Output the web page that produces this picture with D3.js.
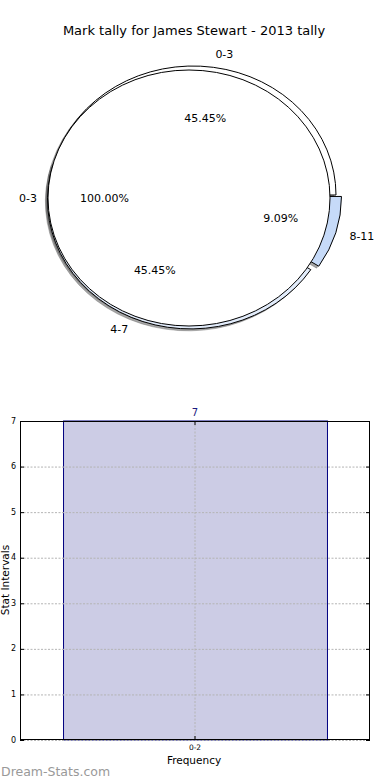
<!DOCTYPE html>
<html><head><meta charset="utf-8">
<script src="https://cdn.jsdelivr.net/npm/d3@7"></script>
<style>body{margin:0;background:#fff;} text{font-family:"DejaVu Sans",sans-serif;}</style>
</head><body><svg id="c" width="390" height="780"></svg>
<script>
const title = "Mark tally for James Stewart - 2013 tally";
const ringCategories = ["0-3", "4-7", "8-11"];
const ringValues = [5, 5, 1];
const ringColors = ["#ffffff", "#e2ecfb", "#c6daf8"];
const ringExplode = [0, 0.042, 0.04];
const discCategories = ["0-3"];
const discValues = [1];
const discColors = ["#ffffff"];
const discExplode = [0];
const barCategories = ["0-2"];
const barValues = [7];
const yTicks = [0, 1, 2, 3, 4, 5, 6, 7];
const watermark = "Dream-Stats.com";

const svg = d3.select("#c");
svg.append("rect").attr("width", 390).attr("height", 780).attr("fill", "#fff");

svg.append("text").attr("x", 194).attr("y", 30).attr("text-anchor", "middle")
  .attr("dominant-baseline", "central").attr("font-size", 13).attr("fill", "#000").text(title);

const R = 100;
const pie = d3.pie().sort(null).value(d => d).startAngle(Math.PI / 2).endAngle(Math.PI / 2 - 2 * Math.PI);
const arc = d3.arc().innerRadius(0).outerRadius(R);

function layoutPie(cats, vals, colors, explode, cx, cy, rx, ry) {
  const total = d3.sum(vals);
  return pie(vals).map((p, i) => {
    const a = (p.startAngle + p.endAngle) / 2;
    const sx = Math.sin(a), sy = -Math.cos(a);
    const ox = explode[i] * rx * sx, oy = explode[i] * ry * sy;
    return {p, cat: cats[i], color: colors[i], cx, cy, rx, ry, ox, oy, sx, sy,
      pct: (100 * vals[i] / total).toFixed(2) + "%"};
  });
}

const ring = layoutPie(ringCategories, ringValues, ringColors, ringExplode, 193, 195, 143, 129);
const disc = layoutPie(discCategories, discValues, discColors, discExplode, 189, 198, 141, 128);

const pieLayer = svg.append("g");
function drawShadows(slices) {
  slices.forEach(s => {
    pieLayer.append("path").attr("d", arc(s.p))
      .attr("transform", `translate(${s.cx + s.ox - 0.015 * s.rx},${s.cy + s.oy + 0.015 * s.ry}) scale(${s.rx / R},${s.ry / R})`)
      .attr("fill", "rgb(77,77,77)").attr("fill-opacity", 0.5)
      .attr("stroke", "rgb(77,77,77)").attr("stroke-opacity", 0.4)
      .attr("vector-effect", "non-scaling-stroke").attr("stroke-width", 0.8);
  });
}
function drawWedges(slices) {
  slices.forEach(s => {
    pieLayer.append("path").attr("d", arc(s.p))
      .attr("transform", `translate(${s.cx + s.ox},${s.cy + s.oy}) scale(${s.rx / R},${s.ry / R})`)
      .attr("fill", s.color).attr("stroke", "#000")
      .attr("vector-effect", "non-scaling-stroke").attr("stroke-width", 1);
  });
}
function drawLabels(slices) {
  slices.forEach(s => {
    pieLayer.append("text")
      .attr("x", s.cx + s.ox + 1.1 * s.rx * s.sx + (s.sx > 0 ? 0 : 3)).attr("y", s.cy + s.oy + 1.1 * s.ry * s.sy)
      .attr("text-anchor", s.sx > 0 ? "start" : "end").attr("dominant-baseline", "central")
      .attr("font-size", 11).text(s.cat);
    pieLayer.append("text")
      .attr("x", s.cx + s.ox + 0.6 * s.rx * s.sx).attr("y", s.cy + s.oy + 0.6 * s.ry * s.sy)
      .attr("text-anchor", "middle").attr("dominant-baseline", "central")
      .attr("font-size", 11).text(s.pct);
  });
}
drawShadows(ring);
drawShadows(disc);
drawWedges(ring);
drawWedges(disc);
drawLabels(ring);
drawLabels(disc);

// Bar chart
const L = 20, Rt = 370, T = 421, B = 740;
const y = d3.scaleLinear().domain([0, 7]).range([B, T]);
const x = d3.scaleBand().domain(barCategories).range([L, Rt]).paddingInner(0).paddingOuter(0.163);
const bc = svg.append("g");

bc.selectAll(".bar").data(barValues).enter().append("rect")
  .attr("x", (d, i) => x(barCategories[i]) + 0.5).attr("width", x.bandwidth())
  .attr("y", d => y(d)).attr("height", d => B - y(d))
  .attr("fill", "#ccccE5").attr("stroke", "#000080").attr("stroke-width", 1);

// grid
bc.selectAll(".hg").data(yTicks).enter().append("line")
  .attr("x1", L).attr("x2", Rt).attr("y1", d => y(d) + 0.5).attr("y2", d => y(d) + 0.5)
  .attr("stroke", "#b4b4b4").attr("stroke-width", 1).attr("stroke-dasharray", "2,1.5");
bc.selectAll(".vg").data(barCategories).enter().append("line")
  .attr("x1", d => x(d) + x.bandwidth() / 2).attr("x2", d => x(d) + x.bandwidth() / 2)
  .attr("y1", T).attr("y2", B)
  .attr("stroke", "#b4b4b4").attr("stroke-width", 1).attr("stroke-dasharray", "2,1.5");

// ticks
yTicks.forEach(t => {
  bc.append("line").attr("x1", L).attr("x2", L + 4).attr("y1", y(t) + 0.5).attr("y2", y(t) + 0.5).attr("stroke", "#000");
  bc.append("line").attr("x1", Rt - 4).attr("x2", Rt).attr("y1", y(t) + 0.5).attr("y2", y(t) + 0.5).attr("stroke", "#000");
  bc.append("text").attr("x", 16).attr("y", y(t)).attr("text-anchor", "end")
    .attr("dominant-baseline", "central").attr("font-size", 8).text(t);
});
barCategories.forEach(c => {
  const cxp = x(c) + x.bandwidth() / 2;
  bc.append("line").attr("x1", cxp).attr("x2", cxp).attr("y1", B).attr("y2", B - 4).attr("stroke", "#000");
  bc.append("line").attr("x1", cxp).attr("x2", cxp).attr("y1", T).attr("y2", T + 4).attr("stroke", "#000");
  bc.append("text").attr("x", cxp).attr("y", 747).attr("text-anchor", "middle")
    .attr("dominant-baseline", "central").attr("font-size", 7.5).text(c);
});

// frame
bc.append("rect").attr("x", L + 0.5).attr("y", T + 0.5).attr("width", Rt - L - 1).attr("height", B - T - 1)
  .attr("fill", "none").attr("stroke", "#000").attr("stroke-width", 1);

// value labels
barValues.forEach((v, i) => {
  bc.append("text").attr("x", x(barCategories[i]) + x.bandwidth() / 2).attr("y", y(v) - 9)
    .attr("text-anchor", "middle").attr("dominant-baseline", "central")
    .attr("font-size", 10).attr("fill", "#1a1a80").text(v);
});

bc.append("text").attr("x", 194).attr("y", 760).attr("text-anchor", "middle")
  .attr("dominant-baseline", "central").attr("font-size", 10.5).text("Frequency");
bc.append("text").attr("transform", "translate(4.5,580) rotate(-90)").attr("text-anchor", "middle")
  .attr("dominant-baseline", "central").attr("font-size", 10.5).text("Stat Intervals");

svg.append("text").attr("x", 1).attr("y", 771).attr("dominant-baseline", "central")
  .attr("font-size", 12.5).attr("fill", "#999").text(watermark);
</script>
</body></html>
